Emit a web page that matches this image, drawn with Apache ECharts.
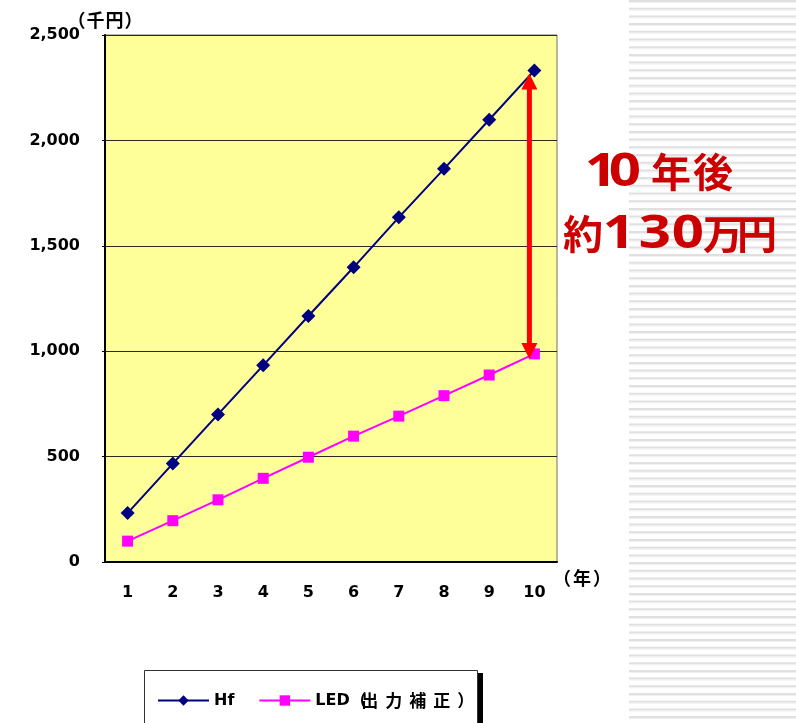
<!DOCTYPE html>
<html>
<head>
<meta charset="utf-8">
<script src="https://cdn.jsdelivr.net/npm/echarts@6/dist/echarts.min.js"></script>
<style>
  html, body { margin: 0; padding: 0; background: #ffffff; }
  #chart { width: 796px; height: 723px; }
</style>
</head>
<body>
<div id="chart"></div>
<script>
// Cumulative cost per year (thousand yen)
const years = ['1', '2', '3', '4', '5', '6', '7', '8', '9', '10'];
const hfCost = [232, 467, 700, 933, 1167, 1398, 1635, 1865, 2098, 2332];
const ledCost = [99, 196, 295, 397, 497, 597, 692, 789, 887, 987];
const seriesNames = ['Hf', 'LED（出力補正）'];
const yUnit = '（千円）';
const xUnit = '（年）';
const noteLine1 = '10年後';
const noteLine2 = '約130万円';

const NUM_FONT = "'DejaVu Sans', 'Noto Sans CJK JP', sans-serif";
const NOTE_NUM_FONT = "'Noto Sans', 'DejaVu Sans', sans-serif";
const CJK_FONT = "'Noto Sans CJK JP', 'DejaVu Sans', sans-serif";
const RED = '#CC0000';
const chart = echarts.init(document.getElementById('chart'), null, { renderer: 'canvas' });

// Striped panel on the right edge
const stripes = [];
for (let y = 0; y < 723; y += 7.7) {
  stripes.push({
    type: 'rect', silent: true, z: 0,
    shape: { x: 629, y: y, width: 167, height: 2 },
    style: { fill: '#e0e0e0' }
  });
  stripes.push({
    type: 'rect', silent: true, z: 0,
    shape: { x: 629, y: y + 2, width: 167, height: 1 },
    style: { fill: '#f0f0f0' }
  });
}

// Lay a string out one character per slot, each centred on its own x
function spacedText(str, centers, cy, color, digitSize, kanjiSize, digitFont, digitStretch) {
  return Array.from(str).map((ch, i) => {
    const isDigit = /[0-9]/.test(ch);
    return {
      type: 'text', silent: true, z: 5, x: centers[i], y: cy + (isDigit ? 1 : 0),
      scaleX: isDigit ? (digitStretch || 1) : 1,
      style: {
        text: ch, fill: color, align: 'center', verticalAlign: 'middle',
        font: 'bold ' + (isDigit ? digitSize : kanjiSize) + 'px ' + (isDigit ? (digitFont || NUM_FONT) : CJK_FONT)
      }
    };
  });
}

const option = {
  animation: false,
  backgroundColor: '#ffffff',
  textStyle: { fontFamily: NUM_FONT },
  grid: {
    left: 105, right: 239, top: 35, bottom: 161,
    show: true, backgroundColor: '#FFFF99', borderColor: '#707070', borderWidth: 1
  },
  xAxis: {
    type: 'category',
    data: years,
    boundaryGap: true,
    axisLine: { lineStyle: { color: '#000', width: 2 } },
    axisTick: { show: false },
    axisLabel: { color: '#000', fontSize: 16, fontWeight: 'bold', margin: 23, fontFamily: NUM_FONT }
  },
  yAxis: {
    type: 'value',
    min: 0, max: 2500, interval: 500,
    axisLine: { show: true, lineStyle: { color: '#000', width: 2 } },
    axisTick: { show: true, length: 3, lineStyle: { color: '#000' } },
    splitLine: { lineStyle: { color: '#2a2a20', width: 1 } },
    axisLabel: {
      color: '#000', fontSize: 16, fontWeight: 'bold', margin: 25, fontFamily: NUM_FONT,
      padding: [3, 0, 0, 0],
      formatter: v => v.toLocaleString('en-US')
    }
  },
  legend: {
    left: 157, top: 692, padding: 0,
    itemWidth: 51, itemHeight: 13, itemGap: 24,
    textStyle: {
      color: '#000', fontSize: 16, fontWeight: 'bold', fontFamily: NUM_FONT,
      rich: {
        l: { fontSize: 16, fontWeight: 'bold', fontFamily: NUM_FONT },
        p: { fontSize: 17, fontWeight: 'bold', fontFamily: CJK_FONT, width: 8, align: 'left' },
        k: { fontSize: 17, fontWeight: 'bold', fontFamily: CJK_FONT, width: 24, align: 'center' }
      }
    },
    formatter: name => {
      const m = name.match(/^([A-Za-z]+)(.*)$/);
      if (!m[2]) return name;
      return '{l|' + m[1] + '}' + Array.from(m[2]).map((ch, i) => (i === 0 ? '{p|' : '{k|') + ch + '}').join('');
    },
    data: seriesNames
  },
  series: [
    {
      name: seriesNames[0], type: 'line', data: hfCost,
      symbol: 'diamond', symbolSize: 14,
      itemStyle: { color: '#000080' },
      lineStyle: { color: '#000080', width: 2 },
      z: 3
    },
    {
      name: seriesNames[1], type: 'line', data: ledCost,
      symbol: 'rect', symbolSize: 11,
      itemStyle: { color: '#FF00FF' },
      lineStyle: { color: '#FF00FF', width: 2 },
      z: 3
    }
  ],
  graphic: [
    ...stripes,
    // legend frame with drop shadow
    { type: 'rect', silent: true, z: 1, shape: { x: 149, y: 673, width: 334, height: 60 }, style: { fill: '#000' } },
    { type: 'rect', silent: true, z: 2, shape: { x: 144.5, y: 670.5, width: 333, height: 60 }, style: { fill: '#fff', stroke: '#333', lineWidth: 1 } },
    // unit labels
    ...spacedText(yUnit, [76.5, 95.5, 114.5, 133.5], 20, '#000', 18, 18),
    ...spacedText(xUnit, [562, 582, 602], 578, '#000', 18, 18),
    // annotation
    ...spacedText(noteLine1, [601, 625, 671, 713], 172, RED, 47, 40, NOTE_NUM_FONT, 1.2),
    ...spacedText(noteLine2, [583, 619, 655, 688, 723, 757], 234, RED, 47, 40, NOTE_NUM_FONT, 1.2)
  ]
};

chart.setOption(option);

// Double-headed arrow between the year-10 values of both series
const pTop = chart.convertToPixel({ xAxisIndex: 0, yAxisIndex: 0 }, [years[9], hfCost[9]]);
const pBot = chart.convertToPixel({ xAxisIndex: 0, yAxisIndex: 0 }, [years[9], ledCost[9]]);
const ax = pTop[0] - 5;
const y1 = pTop[1] + 3;
const y2 = pBot[1] + 5;
const headL = 16, headW = 8, shaftW = 2.5;
chart.setOption({
  graphic: [{
    id: 'gap-arrow', type: 'polygon', silent: true, z: 6,
    shape: {
      points: [
        [ax, y1],
        [ax + headW, y1 + headL],
        [ax + shaftW, y1 + headL],
        [ax + shaftW, y2 - headL],
        [ax + headW, y2 - headL],
        [ax, y2],
        [ax - headW, y2 - headL],
        [ax - shaftW, y2 - headL],
        [ax - shaftW, y1 + headL],
        [ax - headW, y1 + headL]
      ]
    },
    style: { fill: '#FF0000' }
  }]
});
</script>
</body>
</html>
